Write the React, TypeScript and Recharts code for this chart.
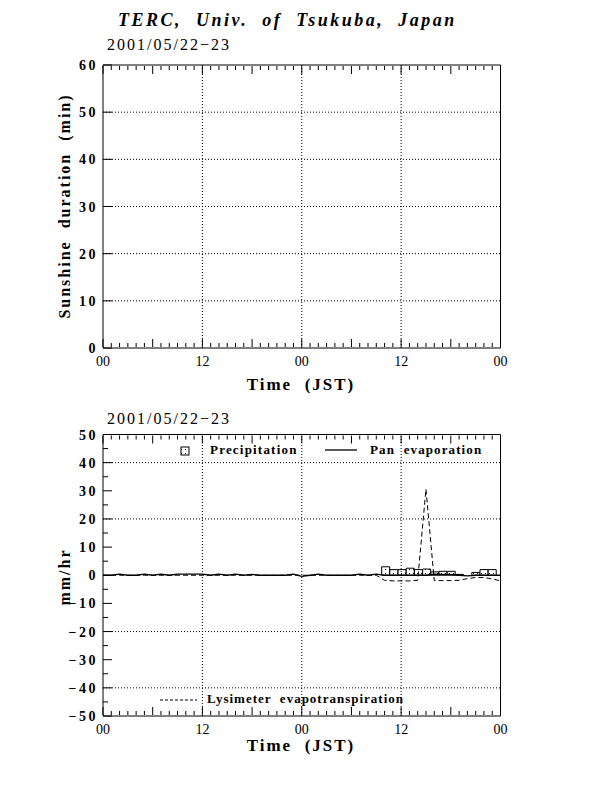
import React from 'react';
import { ComposedChart, Bar, Line, XAxis, YAxis, ReferenceLine } from 'recharts';

const FONT = '"Liberation Serif", "Times New Roman", serif';

// hourly values, 2001/05/22 00h .. 05/23 24h
const SUNSHINE = [
  0, 0, 0, 0, 0, 0, 0, 0, 0, 0, 0, 0, 0, 0, 0, 0, 0, 0, 0, 0, 0, 0, 0, 0,
  0, 0, 0, 0, 0, 0, 0, 0, 0, 0, 0, 0, 0, 0, 0, 0, 0, 0, 0, 0, 0, 0, 0, 0,
];
const PRECIP = [
  0, 0, 0, 0, 0, 0, 0, 0, 0, 0, 0, 0, 0, 0, 0, 0, 0, 0, 0, 0, 0, 0, 0, 0,
  0, 0, 0, 0, 0, 0, 0, 0, 0, 0, 3.0, 2.0, 2.0, 2.5, 2.0, 2.2, 1.2, 1.4, 1.4, 0.3, 0, 1.0, 2.0, 2.0,
];
const PAN = [
  0, 0, 0.4, 0, 0, 0.4, 0, 0.4, 0, 0.4, 0.4, 0.4, 0.4, 0, 0.4, 0, 0.4, 0, 0.3, 0, 0, 0, 0, 0.4,
  -0.4, 0, 0.4, 0, 0, 0, 0, 0.4, 0, 0.4, 0, 0, 0, 0, 0, 0, 0.4, 0.3, 0.3, 0, -0.2, 0, 0, 0, 0,
];
const LYSIMETER = [
  0, 0, 0, 0, 0, 0, 0, 0, 0, 0, 0, 0, 0, 0, 0, 0, 0, 0, 0, 0, 0, 0, 0, 0,
  0, 0, 0, 0, 0, 0, 0, 0, 0, 0, -1.8, -2.0, -2.0, -2.0, -1.8, 30.6, -1.9, -1.9, -1.9, -1.8, -1.2, -0.8, -0.8, -1.3, -2.0,
];

const HOUR_TICKS = [
  0, 1, 2, 3, 4, 5, 6, 7, 8, 9, 10, 11, 12, 13, 14, 15, 16, 17, 18, 19, 20, 21, 22, 23, 24,
  25, 26, 27, 28, 29, 30, 31, 32, 33, 34, 35, 36, 37, 38, 39, 40, 41, 42, 43, 44, 45, 46, 47, 48,
];
const TIME_LABELS: Record<number, string> = { 0: '00', 12: '12', 24: '00', 36: '12', 48: '00' };
const SUN_TICKS = [0, 10, 20, 30, 40, 50, 60];
const FLUX_TICKS = [-50, -45, -40, -35, -30, -25, -20, -15, -10, -5, 0, 5, 10, 15, 20, 25, 30, 35, 40, 45, 50];
const V_GRID = [12, 24, 36];
const SUN_GRID = [10, 20, 30, 40, 50];
const FLUX_GRID = [-40, -20, 20, 40];

const sunRows = HOUR_TICKS.map((h) => ({ h, sun: h < SUNSHINE.length ? SUNSHINE[h] : null }));
const fluxRows = HOUR_TICKS.map((h) => ({
  h,
  pan: PAN[h],
  lys: LYSIMETER[h],
  precip: h < PRECIP.length ? PRECIP[h] : null,
}));

const fmt = (v: number) => (v < 0 ? '\u2212' + Math.abs(v) : String(v));

// axis ticks point into the plot; x/y passed in are the axis line position
const BottomTick = (p: any) => {
  const h = p.payload.value;
  const len = h % 6 === 0 ? 8 : 4;
  return (
    <g>
      <line x1={p.x} x2={p.x} y1={p.y - 1} y2={p.y - 1 - len} stroke="#000" />
      {TIME_LABELS[h] !== undefined && (
        <text x={p.x} y={p.y + 17.5} textAnchor="middle" fontFamily={FONT} fontSize={14} fill="#000">
          {TIME_LABELS[h]}
        </text>
      )}
    </g>
  );
};

const TopTick = (p: any) => {
  const h = p.payload.value;
  const len = h % 6 === 0 ? 8 : 4;
  return <line x1={p.x} x2={p.x} y1={p.y + 1} y2={p.y + 1 + len} stroke="#000" />;
};

const LeftTick = (p: any) => {
  const v = p.payload.value;
  const major = v % 10 === 0;
  return (
    <g>
      <line x1={p.x} x2={p.x + (major ? 9 : 5)} y1={p.y} y2={p.y} stroke="#000" />
      {major && (
        <text x={p.x - 5} y={p.y + 5} textAnchor="end" fontFamily={FONT} fontWeight="bold" fontSize={14} letterSpacing={2.5} fill="#000">
          {fmt(v)}
        </text>
      )}
    </g>
  );
};

const RightTick = (p: any) => {
  const v = p.payload.value;
  const major = v % 10 === 0;
  return <line x1={p.x} x2={p.x - (major ? 9 : 5)} y1={p.y} y2={p.y} stroke="#000" />;
};

const Stipple = () => (
  <defs>
    <pattern id="stipple" width="4" height="4" patternUnits="userSpaceOnUse">
      <rect width="4" height="4" fill="#fff" />
      <rect x="1" y="1" width="1" height="1" fill="#000" />
    </pattern>
  </defs>
);

const axisStyle = { stroke: '#000', strokeWidth: 1 };

export default function App() {
  const text = { fontFamily: FONT, fill: '#000' } as const;
  return (
    <div style={{ position: 'relative', width: 600, height: 776, background: '#fff' }}>
      {/* sunshine duration */}
      <div style={{ position: 'absolute', left: 0, top: 0 }}>
        <ComposedChart width={600} height={372} data={sunRows} margin={{ top: 56, right: 106.5, bottom: 31, left: 94 }}>
          <XAxis xAxisId="b" dataKey="h" type="number" domain={[0, 48]} ticks={HOUR_TICKS} interval={0}
            height={1} tickLine={false} tickSize={0} tickMargin={0} axisLine={axisStyle} tick={<BottomTick />} />
          <XAxis xAxisId="t" orientation="top" dataKey="h" type="number" domain={[0, 48]} ticks={HOUR_TICKS} interval={0}
            height={1} tickLine={false} tickSize={0} tickMargin={0} axisLine={axisStyle} tick={<TopTick />} />
          <XAxis xAxisId="bar" dataKey={(d: any) => d.h + 0.5} type="number" domain={[0, 48]} hide />
          <YAxis yAxisId="l" type="number" domain={[0, 60]} ticks={SUN_TICKS} interval={0} width={1}
            tickLine={false} tickSize={0} tickMargin={0} axisLine={axisStyle} tick={<LeftTick />} />
          <YAxis yAxisId="r" orientation="right" type="number" domain={[0, 60]} ticks={SUN_TICKS} interval={0} width={1}
            tickLine={false} tickSize={0} tickMargin={0} axisLine={axisStyle} tick={<RightTick />} />
          {V_GRID.map((v) => (
            <ReferenceLine key={'v' + v} xAxisId="b" yAxisId="l" x={v} stroke="#000" strokeDasharray="1 2" />
          ))}
          {SUN_GRID.map((v) => (
            <ReferenceLine key={'h' + v} xAxisId="b" yAxisId="l" y={v} stroke="#000" strokeDasharray="1 2" />
          ))}
          <Bar xAxisId="bar" yAxisId="l" dataKey="sun" barSize={8} fill="#000" isAnimationActive={false} />
        </ComposedChart>
      </div>

      {/* precipitation / evaporation */}
      <div style={{ position: 'absolute', left: 0, top: 380 }}>
        <ComposedChart width={600} height={372} data={fluxRows} margin={{ top: 45.5, right: 106.5, bottom: 43, left: 94 }}>
          <Stipple />
          <XAxis xAxisId="b" dataKey="h" type="number" domain={[0, 48]} ticks={HOUR_TICKS} interval={0}
            height={1} tickLine={false} tickSize={0} tickMargin={0} axisLine={axisStyle} tick={<BottomTick />} />
          <XAxis xAxisId="t" orientation="top" dataKey="h" type="number" domain={[0, 48]} ticks={HOUR_TICKS} interval={0}
            height={1} tickLine={false} tickSize={0} tickMargin={0} axisLine={axisStyle} tick={<TopTick />} />
          <XAxis xAxisId="bar" dataKey={(d: any) => d.h + 0.5} type="number" domain={[0, 48]} hide />
          <YAxis yAxisId="l" type="number" domain={[-50, 50]} ticks={FLUX_TICKS} interval={0} width={1}
            tickLine={false} tickSize={0} tickMargin={0} axisLine={axisStyle} tick={<LeftTick />} />
          <YAxis yAxisId="r" orientation="right" type="number" domain={[-50, 50]} ticks={FLUX_TICKS} interval={0} width={1}
            tickLine={false} tickSize={0} tickMargin={0} axisLine={axisStyle} tick={<RightTick />} />
          {V_GRID.map((v) => (
            <ReferenceLine key={'v' + v} xAxisId="b" yAxisId="l" x={v} stroke="#000" strokeDasharray="1 2" />
          ))}
          {FLUX_GRID.map((v) => (
            <ReferenceLine key={'h' + v} xAxisId="b" yAxisId="l" y={v} stroke="#000" strokeDasharray="1 2" />
          ))}
          <Bar xAxisId="bar" yAxisId="l" dataKey="precip" barSize={8} fill="url(#stipple)" stroke="#000" strokeWidth={1} isAnimationActive={false} />
          <Line xAxisId="b" yAxisId="l" dataKey="lys" type="linear" stroke="#000" strokeWidth={1} strokeDasharray="5 3" dot={false} isAnimationActive={false} />
          <Line xAxisId="b" yAxisId="l" dataKey="pan" type="linear" stroke="#000" strokeWidth={1.3} dot={false} isAnimationActive={false} />
        </ComposedChart>
      </div>

      {/* titles, axis names, legend */}
      <svg width={600} height={776} style={{ position: 'absolute', left: 0, top: 0, pointerEvents: 'none' }}>
        <Stipple />
        <text x={110} y={18} {...text} fontSize={18} fontWeight="bold" fontStyle="italic" letterSpacing={2.5} style={{ whiteSpace: 'pre' }}>
          {'TERC,  Univ.  of  Tsukuba,  Japan'}
        </text>
        <text x={99} y={42} {...text} fontSize={16} letterSpacing={2}>2001/05/22{'\u2212'}23</text>
        <text transform="translate(62,198) rotate(-90)" textAnchor="middle" {...text} fontSize={16} fontWeight="bold" letterSpacing={2} style={{ whiteSpace: 'pre' }}>
          {'Sunshine  duration  (min)'}
        </text>
        <text x={293} y={382} textAnchor="middle" {...text} fontSize={17} fontWeight="bold" letterSpacing={2} style={{ whiteSpace: 'pre' }}>
          {'Time  (JST)'}
        </text>

        <text x={99} y={416} {...text} fontSize={16} letterSpacing={2}>2001/05/22{'\u2212'}23</text>
        <text transform="translate(62,569) rotate(-90)" textAnchor="middle" {...text} fontSize={16} fontWeight="bold" letterSpacing={2}>
          mm/hr
        </text>
        <rect x={173} y={439} width={8} height={8} fill="url(#stipple)" stroke="#000" />
        <text x={202} y={446} {...text} fontSize={13} fontWeight="bold" letterSpacing={1.2}>Precipitation</text>
        <line x1={317} x2={349} y1={442} y2={442} stroke="#000" strokeWidth={1.3} />
        <text x={362} y={446} {...text} fontSize={13} fontWeight="bold" letterSpacing={1.1} style={{ whiteSpace: 'pre' }}>
          {'Pan  evaporation'}
        </text>
        <line x1={152} x2={189} y1={692} y2={692} stroke="#000" strokeDasharray="3 2" />
        <text x={199} y={695} {...text} fontSize={13} fontWeight="bold" letterSpacing={1.0} style={{ whiteSpace: 'pre' }}>
          {'Lysimeter  evapotranspiration'}
        </text>
        <text x={293} y={743} textAnchor="middle" {...text} fontSize={17} fontWeight="bold" letterSpacing={2} style={{ whiteSpace: 'pre' }}>
          {'Time  (JST)'}
        </text>
      </svg>
    </div>
  );
}
